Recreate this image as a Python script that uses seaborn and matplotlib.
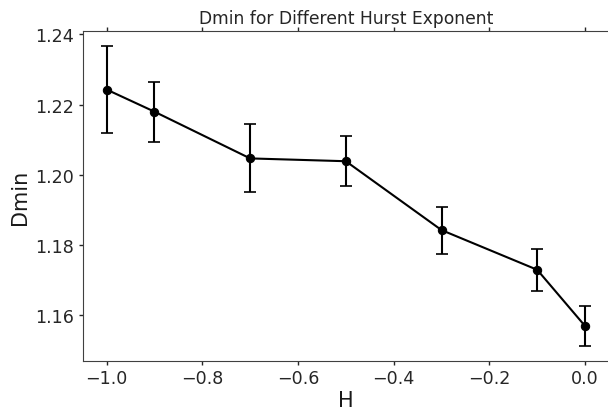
import numpy as np
import pandas as pd
import matplotlib
matplotlib.use("Agg")
import matplotlib.pyplot as plt
import seaborn as sns

# values
hurst = [-1.0, -0.9, -0.7, -0.5, -0.3, -0.1, 0.0]
dmin = [1.2243, 1.2180, 1.2047, 1.2039, 1.1843, 1.1730, 1.1570]
dmin_err = [0.0124, 0.0085, 0.0097, 0.0071, 0.0067, 0.0060, 0.0057]

df = pd.DataFrame({"H": hurst, "Dmin": dmin, "err": dmin_err})

sns.set_style("ticks")
plt.rcParams["font.family"] = ["DejaVu Sans"]

fig, ax = plt.subplots(figsize=(6.08, 4.10), dpi=100)
fig.subplots_adjust(left=0.136, right=1.0016, top=0.922, bottom=0.117)

ax.errorbar(df["H"], df["Dmin"], yerr=df["err"], fmt="none", ecolor="black",
            elinewidth=1.5, capsize=4.5, capthick=1.2)
sns.lineplot(data=df, x="H", y="Dmin", color="black", marker="o",
             markersize=6, markeredgecolor="black", linewidth=1.5, ax=ax)

ax.set_title("Dmin for Different Hurst Exponent", fontsize=12.3, pad=6,
             color="0.15")
ax.set_xlabel("H", fontsize=15, labelpad=2, color="0.1")
ax.set_ylabel("Dmin", fontsize=15, labelpad=4, color="0.1")
ax.set_yticks([1.16, 1.18, 1.20, 1.22, 1.24])
ax.tick_params(labelsize=12.6, top=True, length=3, width=1, colors="0.15",
               pad=3)
for s in ax.spines.values():
    s.set_color("0.25")

fig.savefig("out.png", dpi=100)
